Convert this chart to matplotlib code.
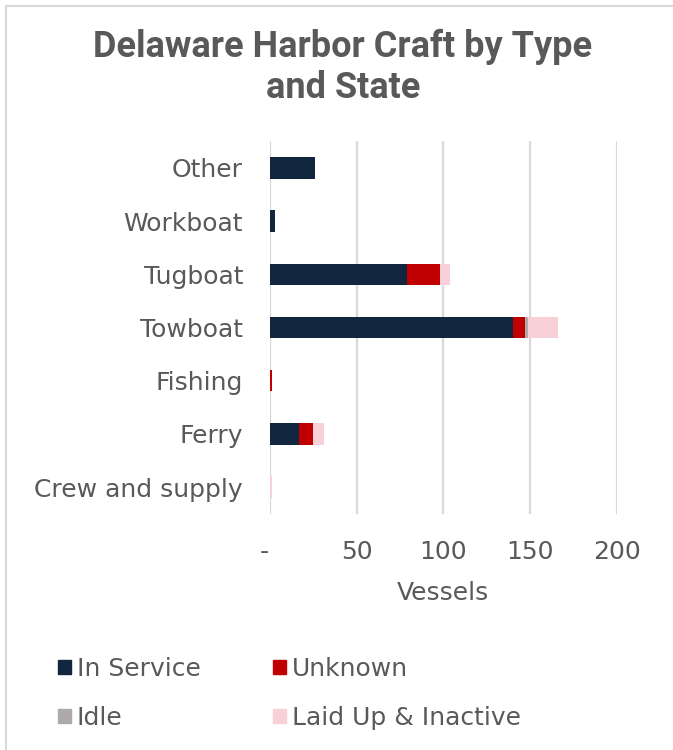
import matplotlib
matplotlib.use("Agg")
import matplotlib.pyplot as plt
from matplotlib.patches import Patch, Rectangle
from matplotlib.transforms import ScaledTranslation

# Vessel counts per craft type and operating state
categories = ["Crew and supply", "Ferry", "Fishing", "Towboat", "Tugboat", "Workboat", "Other"]
in_service = [0, 17, 0, 140, 79, 3, 26]
unknown = [0, 8, 1, 7, 19, 0, 0]
idle = [0, 0, 0, 2, 0, 0, 0]
laid_up = [1, 6, 0, 17, 6, 0, 0]

series_names = ["In Service", "Unknown", "Idle", "Laid Up & Inactive"]
series_colors = ["#12263f", "#c00000", "#aeaaaa", "#f8d0d8"]
x_ticks = [0, 50, 100, 150, 200]
x_ticklabels = ["-", "50", "100", "150", "200"]

text_color = "#595959"
grid_color = "#d9d9d9"
label_size = 18
plt.rcParams["font.family"] = ["DejaVu Sans"]

W, H = 673, 750
fig = plt.figure(figsize=(W / 100, H / 100), dpi=100)

# Outer chart border (left and top edges show)
fig.patches.append(Rectangle((6 / W, -0.1), 1.2, (H - 6) / H + 0.1,
                             transform=fig.transFigure, fill=False,
                             edgecolor="#d9d9d9", linewidth=1.5))

left, right = 270 / W, 616.7 / W
top, bottom = 1 - 141.3 / H, 1 - 513.7 / H
ax = fig.add_axes([left, bottom, right - left, top - bottom])

ypos = list(range(len(categories)))
series = [in_service, unknown, idle, laid_up]
base = [0] * len(categories)
for vals, name, col in zip(series, series_names, series_colors):
    ax.barh(ypos, vals, left=base, height=0.4, color=col, label=name, zorder=3)
    base = [b + v for b, v in zip(base, vals)]

ax.set_xlim(0, 200)
ax.set_ylim(-0.5, len(categories) - 0.5)
ax.set_xticks(x_ticks)
ax.set_xticklabels(x_ticklabels)
ax.set_yticks(ypos)
ax.set_yticklabels(categories)
ax.grid(axis="x", color=grid_color, linewidth=1.6, zorder=0)
ax.tick_params(axis="both", length=0, labelsize=label_size, colors=text_color)
ax.tick_params(axis="y", pad=19.4)
ax.tick_params(axis="x", pad=19)
for s in ax.spines.values():
    s.set_visible(False)
ax.set_xlabel("Vessels", fontsize=label_size, color=text_color, labelpad=12.5)

# The zero label ("-") sits slightly left of the axis line
zero_lbl = ax.get_xticklabels()[0]
zero_lbl.set_transform(zero_lbl.get_transform()
                       + ScaledTranslation(-6 / 100, 0, fig.dpi_scale_trans))

fig.text(343 / W, 1 - 67.5 / H, "Delaware Harbor Craft by Type\nand State",
         ha="center", va="center", fontsize=26, fontweight="bold",
         family=["Roboto", "DejaVu Sans"], color=text_color, linespacing=1.2)

handles = [Patch(color=c) for c in series_colors]
order = [0, 2, 1, 3]
leg = fig.legend([handles[i] for i in order], [series_names[i] for i in order],
                 ncol=2, loc="center left", bbox_to_anchor=(58 / W, 1 - 693.5 / H),
                 frameon=False, fontsize=label_size, handlelength=0.5, handleheight=0.5,
                 handletextpad=0.25, columnspacing=2.9, labelspacing=1.0,
                 borderpad=0, borderaxespad=0)
for t in leg.get_texts():
    t.set_color(text_color)

fig.savefig("out.png", dpi=100)
